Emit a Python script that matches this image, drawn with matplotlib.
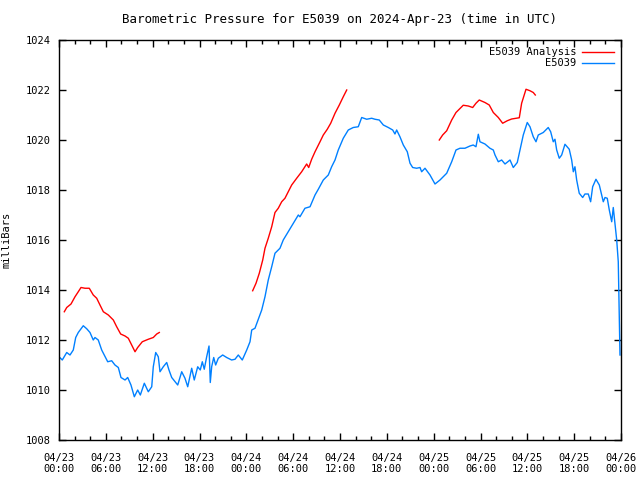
import numpy as np
import matplotlib
matplotlib.use("Agg")
from matplotlib import pyplot as plt
from matplotlib.ticker import MultipleLocator

nan = np.nan

# hours since 2024-04-23 00:00 UTC
obs_hours = [0.1, 0.42, 0.99, 1.41, 1.83, 2.14, 2.47, 2.82, 3.11, 3.55, 3.97, 4.39, 4.61, 5.03,
             5.47, 5.80, 6.24, 6.75, 7.17, 7.60, 7.94, 8.46, 8.80, 9.22, 9.65, 10.08, 10.42,
             10.93, 11.44, 11.88, 12.08, 12.39, 12.72, 12.94, 13.36, 13.80, 14.09, 14.44,
             15.21, 15.72, 16.14, 16.49, 17.00, 17.33, 17.77, 18.10, 18.36, 18.61, 18.92,
             19.22, 19.38, 19.56, 19.82, 20.07, 20.41, 20.97, 21.48, 22.12, 22.55, 22.97,
             23.48, 24.05, 24.47, 24.69, 25.11, 25.53, 25.97, 26.39, 26.81, 27.25, 27.67,
             28.31, 28.73, 29.37, 30.02, 30.66, 30.87, 31.51, 32.16, 32.80, 33.22, 33.86,
             34.50, 34.93, 35.36, 35.78, 36.42, 37.06, 37.70, 38.34, 38.78, 39.42, 40.06,
             40.48, 41.03, 41.55, 42.19, 42.75, 43.04, 43.26, 43.68, 44.11, 44.62, 44.97,
             45.31, 45.82, 46.25, 46.46, 46.89, 47.53, 48.17, 48.81, 49.23, 49.67, 50.31,
             50.86, 51.37, 52.01, 52.65, 53.07, 53.42, 53.72, 53.93, 54.57, 55.21, 55.64,
             55.86, 56.28, 56.71, 57.14, 57.78, 58.20, 58.71, 59.06, 59.48, 59.99, 60.34,
             60.76, 61.11, 61.40, 62.04, 62.68, 62.99, 63.32, 63.54, 63.76, 64.09, 64.40,
             64.82, 65.37, 65.68, 65.89, 66.10, 66.32, 66.65, 67.09, 67.38, 67.81, 68.11,
             68.37, 68.79, 69.22, 69.52, 69.73, 69.95, 70.24, 70.50, 70.81, 71.01, 71.23,
             71.45, 71.65, 71.78, 71.87]
obs_mb = [1011.3, 1011.2, 1011.5, 1011.4, 1011.6, 1012.1, 1012.3, 1012.45, 1012.57, 1012.45,
          1012.3, 1012.0, 1012.1, 1012.0, 1011.6, 1011.4, 1011.13, 1011.17, 1011.0, 1010.9,
          1010.5, 1010.4, 1010.5, 1010.2, 1009.73, 1010.0, 1009.8, 1010.27, 1009.93, 1010.13,
          1010.93, 1011.5, 1011.33, 1010.73, 1010.93, 1011.1, 1010.8, 1010.5, 1010.2,
          1010.73, 1010.47, 1010.13, 1010.87, 1010.4, 1010.93, 1010.8, 1011.13, 1010.83,
          1011.33, 1011.76, 1010.3, 1010.93, 1011.3, 1011.0, 1011.27, 1011.4, 1011.3,
          1011.2, 1011.23, 1011.4, 1011.2, 1011.6, 1011.93, 1012.4, 1012.47, 1012.83,
          1013.2, 1013.73, 1014.4, 1014.93, 1015.47, 1015.67, 1016.0, 1016.33, 1016.67,
          1017.0, 1016.93, 1017.27, 1017.33, 1017.8, 1018.03, 1018.4, 1018.6, 1018.93,
          1019.2, 1019.6, 1020.07, 1020.4, 1020.5, 1020.53, 1020.9, 1020.83, 1020.87,
          1020.83, 1020.8, 1020.6, 1020.5, 1020.4, 1020.24, 1020.4, 1020.13, 1019.8,
          1019.53, 1019.07, 1018.9, 1018.87, 1018.9, 1018.73, 1018.87, 1018.6, 1018.24,
          1018.4, 1018.53, 1018.67, 1019.13, 1019.6, 1019.67, 1019.67, 1019.76, 1019.8,
          1019.73, 1020.23, 1019.93, 1019.84, 1019.67, 1019.6, 1019.4, 1019.13, 1019.2,
          1019.04, 1019.2, 1018.9, 1019.1, 1019.6, 1020.2, 1020.7, 1020.53, 1020.13,
          1019.93, 1020.2, 1020.3, 1020.5, 1020.33, 1019.93, 1020.03, 1019.6, 1019.27,
          1019.4, 1019.83, 1019.63, 1019.2, 1018.73, 1018.93, 1018.4, 1017.87, 1017.7,
          1017.84, 1017.84, 1017.53, 1018.13, 1018.43, 1018.2, 1017.8, 1017.53, 1017.7,
          1017.67, 1017.2, 1016.73, 1017.3, 1016.67, 1016.0, 1015.13, 1012.8, 1011.4]

# analysis series, gaps marked with nan
ana_hours = [0.68, 0.99, 1.54, 2.05, 2.47, 2.82, 3.33, 3.88, 4.39, 4.83, 5.25, 5.68, 6.32,
             6.96, 7.39, 7.90, 8.46, 8.88, 9.31, 9.74, 10.08, 10.67, 11.44, 12.08, 12.52,
             12.85, 18.0,
             24.81, 25.24, 25.66, 26.10, 26.39, 26.81, 27.25, 27.67, 28.09, 28.53, 28.95,
             29.37, 29.81, 30.45, 31.09, 31.73, 31.99, 32.37, 32.80, 33.44, 33.86, 34.37,
             34.81, 35.36, 35.91, 36.42, 36.86, 42.0,
             48.72, 49.15, 49.67, 50.31, 50.86, 51.79, 52.43, 53.00, 53.42, 53.84, 54.57,
             55.12, 55.64, 56.28, 56.84, 57.43, 57.99, 58.97, 59.27, 59.83, 60.34, 60.76,
             61.02]
ana_mb = [1013.13, 1013.3, 1013.44, 1013.73, 1013.93, 1014.1, 1014.07, 1014.07, 1013.8,
          1013.67, 1013.4, 1013.13, 1013.0, 1012.8, 1012.53, 1012.24, 1012.16, 1012.07,
          1011.8, 1011.53, 1011.7, 1011.93, 1012.03, 1012.1, 1012.24, 1012.3, nan,
          1013.97, 1014.27, 1014.67, 1015.2, 1015.67, 1016.07, 1016.53, 1017.1, 1017.27,
          1017.53, 1017.67, 1017.93, 1018.2, 1018.47, 1018.73, 1019.04, 1018.9, 1019.23,
          1019.53, 1019.93, 1020.2, 1020.43, 1020.67, 1021.07, 1021.4, 1021.73, 1022.0, nan,
          1020.0, 1020.2, 1020.37, 1020.8, 1021.1, 1021.39, 1021.36, 1021.3, 1021.47,
          1021.6, 1021.5, 1021.4, 1021.1, 1020.9, 1020.67, 1020.77, 1020.84, 1020.89,
          1021.47, 1022.03, 1021.97, 1021.9, 1021.8]

tick_hours = [0, 6, 12, 18, 24, 30, 36, 42, 48, 54, 60, 66, 72]
tick_labels = ["04/23\n00:00", "04/23\n06:00", "04/23\n12:00", "04/23\n18:00",
               "04/24\n00:00", "04/24\n06:00", "04/24\n12:00", "04/24\n18:00",
               "04/25\n00:00", "04/25\n06:00", "04/25\n12:00", "04/25\n18:00",
               "04/26\n00:00"]

plt.rcParams['font.family'] = 'DejaVu Sans Mono'
plt.rcParams['font.size'] = 7.5

fig = plt.figure(figsize=(6.4, 4.8), dpi=100)
ax = fig.add_axes([59/640, 40/480, 562/640, 400/480])

ax.plot(ana_hours, ana_mb, color='#ff0000', lw=1, label='E5039 Analysis')
ax.plot(obs_hours, obs_mb, color='#0080ff', lw=1, label='E5039')

ax.set_xlim(0, 72)
ax.set_ylim(1008, 1024)
ax.set_xticks(tick_hours)
ax.set_xticklabels(tick_labels)
ax.xaxis.set_minor_locator(MultipleLocator(2))
ax.yaxis.set_major_locator(MultipleLocator(2))
ax.tick_params(which='both', direction='in', top=True, right=True, width=1, colors='black')
ax.tick_params(which='major', length=5, pad=6)
ax.tick_params(axis='x', which='major', pad=9)
ax.tick_params(which='minor', length=3)
for s in ax.spines.values():
    s.set_linewidth(1)

ax.set_ylabel('milliBars')
ax.yaxis.set_label_coords(-0.085, 0.5)
ax.set_title('Barometric Pressure for E5039 on 2024-Apr-23 (time in UTC)', pad=12)

leg = ax.legend(loc='upper right', frameon=False, markerfirst=False, handlelength=3,
                borderaxespad=0.3, labelspacing=0.1, handletextpad=0.6)
for t in leg.get_texts():
    t.set_ha('right')

fig.savefig('out.png', dpi=100)
